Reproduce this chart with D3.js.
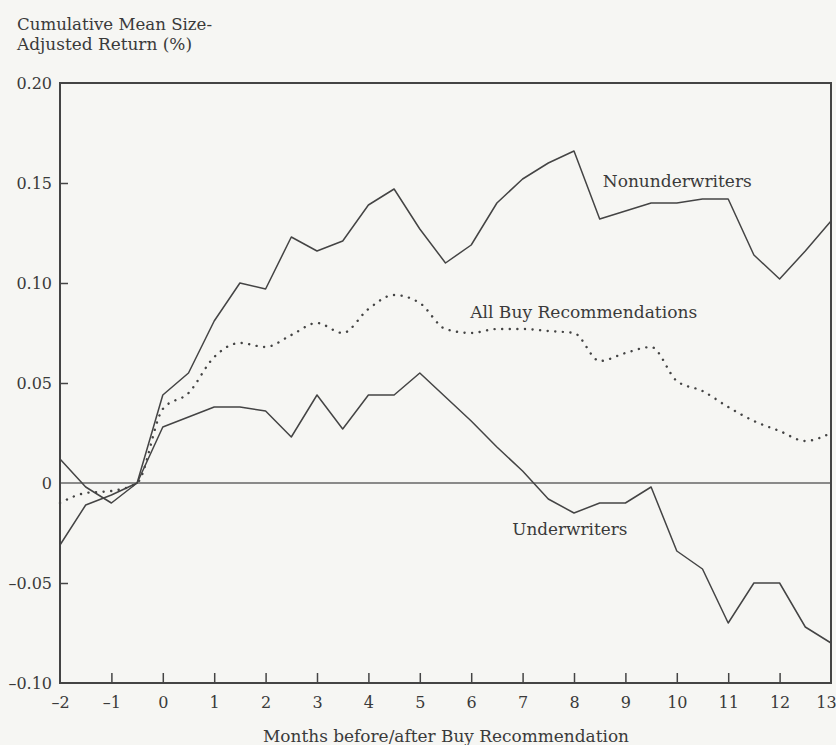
<!DOCTYPE html>
<html><head><meta charset="utf-8">
<script src="https://cdn.jsdelivr.net/npm/d3@7"></script>
<style>
body{margin:0;background:#f6f6f3;}
svg{display:block;}
text{font-family:"DejaVu Serif",serif;fill:#3a3a3a;}
</style></head>
<body><svg id="c" width="836" height="745"></svg>
<script>
const months = [-2,-1.5,-1,-0.5,0,0.5,1,1.5,2,2.5,3,3.5,4,4.5,5,5.5,6,6.5,7,7.5,8,8.5,9,9.5,10,10.5,11,11.5,12,12.5,13];
const nonunderwriters = [0.012,-0.002,-0.010,0,0.044,0.055,0.081,0.100,0.097,0.123,0.116,0.121,0.139,0.147,0.127,0.110,0.119,0.140,0.152,0.160,0.166,0.132,0.136,0.140,0.140,0.142,0.142,0.114,0.102,0.116,0.131];
const allBuy = [-0.010,-0.005,-0.004,0,0.037,0.045,0.063,0.070,0.068,0.074,0.080,0.075,0.087,0.094,0.090,0.077,0.075,0.077,0.077,0.076,0.075,0.061,0.065,0.068,0.051,0.046,0.038,0.031,0.026,0.021,0.025];
const underwriters = [-0.031,-0.011,-0.006,0,0.028,0.033,0.038,0.038,0.036,0.023,0.044,0.027,0.044,0.044,0.055,0.043,0.031,0.018,0.006,-0.008,-0.015,-0.010,-0.010,-0.002,-0.034,-0.043,-0.070,-0.050,-0.050,-0.072,-0.080];
const xTicks = [-2,-1,0,1,2,3,4,5,6,7,8,9,10,11,12,13];
const yTicks = [-0.10,-0.05,0,0.05,0.10,0.15,0.20];
const yTickLabels = ["–0.10","–0.05","0","0.05","0.10","0.15","0.20"];
const seriesLabels = [
  {name:"Nonunderwriters", m:8.56, v:0.148, w:149},
  {name:"All Buy Recommendations", m:5.98, v:0.0825, w:227},
  {name:"Underwriters", m:6.8, v:-0.026, w:115}
];
const yTitle = ["Cumulative Mean Size-","Adjusted Return (%)"];
const yTitleW = [195,175];
const xTitle = "Months before/after Buy Recommendation";

const svg = d3.select("#c");
const L=60, R=831, T=83, B=683;
const x = d3.scaleLinear().domain([-2,13]).range([L,R]);
const y = d3.scaleLinear().domain([-0.10,0.20]).range([B,T]);
const ink = "#444";

// zero line
svg.append("line").attr("x1",L).attr("x2",R).attr("y1",y(0)).attr("y2",y(0))
  .attr("stroke","#666").attr("stroke-width",1.6);

// axes
const xa = svg.append("g").attr("transform",`translate(0,${B})`)
  .call(d3.axisBottom(x).tickValues(xTicks).tickSizeInner(-10).tickSizeOuter(0)
    .tickPadding(14).tickFormat(d=> d<0 ? "–"+Math.abs(d) : String(d)));
xa.select(".domain").remove();
xa.selectAll("line").attr("stroke",ink).attr("stroke-width",1.5);
xa.selectAll("text").attr("font-size",16).attr("font-family","DejaVu Serif").attr("fill","#3a3a3a");
xa.selectAll(".tick text").filter(d=>d===13).attr("dx",-5);
xa.selectAll(".tick").filter(d=>d===-2||d===13).select("line").remove();

const ya = svg.append("g").attr("transform",`translate(${L},0)`)
  .call(d3.axisLeft(y).tickValues(yTicks).tickSizeInner(-8).tickSizeOuter(0)
    .tickPadding(8).tickFormat((d,i)=>yTickLabels[i]));
ya.select(".domain").remove();
ya.selectAll("line").attr("stroke",ink).attr("stroke-width",1.5);
ya.selectAll(".tick").filter(d=>d===0.20||Math.abs(d+0.10)<1e-9||d===0).select("line").remove();
ya.selectAll("text").attr("font-size",16).attr("font-family","DejaVu Serif").attr("fill","#3a3a3a");

// frame
svg.append("rect").attr("x",L).attr("y",T).attr("width",R-L).attr("height",B-T)
  .attr("fill","none").attr("stroke",ink).attr("stroke-width",2);

const line = d3.line().x((d,i)=>x(months[i])).y(d=>y(d));
svg.append("path").datum(nonunderwriters).attr("d",line).attr("fill","none")
  .attr("stroke",ink).attr("stroke-width",1.5).attr("stroke-linejoin","round");
svg.append("path").datum(underwriters).attr("d",line).attr("fill","none")
  .attr("stroke",ink).attr("stroke-width",1.5).attr("stroke-linejoin","round");
svg.append("path").datum(allBuy).attr("d",d3.line().curve(d3.curveMonotoneX).x((d,i)=>x(months[i])).y(d=>y(d)))
  .attr("fill","none").attr("stroke",ink).attr("stroke-width",2.4)
  .attr("stroke-dasharray","0.1 7.5").attr("stroke-linecap","round");

// series labels
svg.selectAll("text.sl").data(seriesLabels).join("text").attr("class","sl")
  .attr("x",d=>x(d.m)).attr("y",d=>y(d.v)).attr("font-size",16.5)
  .attr("textLength",d=>d.w).attr("lengthAdjust","spacingAndGlyphs").text(d=>d.name);

// titles
svg.selectAll("text.yt").data(yTitle).join("text").attr("class","yt")
  .attr("x",17).attr("y",(d,i)=>30+i*20).attr("font-size",16)
  .attr("textLength",(d,i)=>yTitleW[i]).attr("lengthAdjust","spacingAndGlyphs").text(d=>d);
svg.append("text").attr("x",446).attr("y",742).attr("text-anchor","middle")
  .attr("font-size",16).attr("textLength",366).attr("lengthAdjust","spacingAndGlyphs").text(xTitle);
</script></body></html>
